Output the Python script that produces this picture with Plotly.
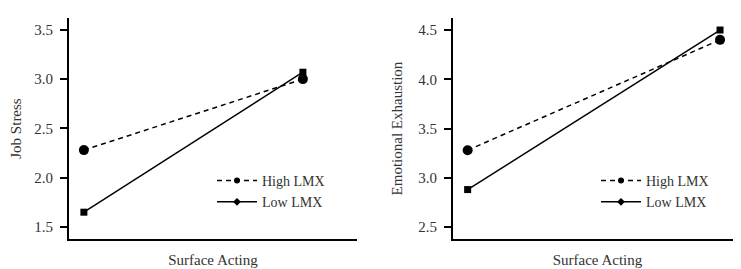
import plotly.graph_objects as go

x_levels = [0, 1]
x_labels = ["Low", "High"]
series = ["High LMX", "Low LMX"]
job_stress_high = [2.28, 3.00]
job_stress_low = [1.65, 3.07]
exhaustion_high = [3.28, 4.40]
exhaustion_low = [2.88, 4.50]
y1_ticks = [1.5, 2.0, 2.5, 3.0, 3.5]
y2_ticks = [2.5, 3.0, 3.5, 4.0, 4.5]

FONT = "'Liberation Serif', 'Times New Roman', serif"
TXT = "#333"
W, H = 741, 269

fig = go.Figure()

def add_panel(hi, lo, xa, ya, leg):
    fig.add_trace(go.Scatter(x=x_levels, y=hi, xaxis=xa, yaxis=ya, mode="lines+markers",
                             line=dict(color="black", width=1.5, dash="5px,4px"),
                             marker=dict(symbol="circle", size=10, color="black"),
                             showlegend=False))
    fig.add_trace(go.Scatter(x=x_levels, y=lo, xaxis=xa, yaxis=ya, mode="lines+markers",
                             line=dict(color="black", width=1.5),
                             marker=dict(symbol="square", size=7, color="black"),
                             showlegend=False))
    fig.add_trace(go.Scatter(x=[None], y=[None], xaxis=xa, yaxis=ya, mode="lines+markers",
                             name=series[0], legend=leg,
                             line=dict(color="black", width=1.5, dash="5px,4px"),
                             marker=dict(symbol="circle", size=6, color="black")))
    fig.add_trace(go.Scatter(x=[None], y=[None], xaxis=xa, yaxis=ya, mode="lines+markers",
                             name=series[1], legend=leg,
                             line=dict(color="black", width=1.5),
                             marker=dict(symbol="diamond", size=6, color="black")))

add_panel(job_stress_high, job_stress_low, "x", "y", "legend")
add_panel(exhaustion_high, exhaustion_low, "x2", "y2", "legend2")

ydom = [(H - 231) / H, (H - 10) / H]
xcommon = dict(showticklabels=False, ticks="", showgrid=False, zeroline=False,
               showline=True, linecolor="black", linewidth=2, automargin=False,
               title=dict(text="Surface Acting", font=dict(family=FONT, size=15, color=TXT), standoff=14))
ycommon = dict(showgrid=False, zeroline=False, showline=True, linecolor="black", linewidth=2,
               ticks="outside", ticklen=7, tickwidth=1.5, tickcolor="black", automargin=False,
               ticklabelstandoff=4,
               tickfont=dict(family=FONT, size=15, color=TXT))

legcommon = dict(xanchor="left", yanchor="top", font=dict(family=FONT, size=14, color=TXT),
                 bgcolor="rgba(0,0,0,0)", tracegroupgap=0, itemwidth=40)

fig.update_layout(
    width=W, height=H, margin=dict(l=0, r=0, t=0, b=0),
    plot_bgcolor="white", paper_bgcolor="white",
    xaxis=dict(domain=[61 / W, 349 / W], range=[-0.068, 1.247], **xcommon),
    yaxis=dict(domain=ydom, range=[1.378, 3.62], tickvals=y1_ticks,
               ticktext=[f"{v:.1f}" for v in y1_ticks],
               title=dict(text="Job Stress", font=dict(family=FONT, size=15, color=TXT), standoff=14),
               **ycommon),
    xaxis2=dict(domain=[445 / W, 734 / W], range=[-0.058, 1.087], anchor="y2", **xcommon),
    yaxis2=dict(domain=ydom, range=[2.378, 4.622], tickvals=y2_ticks, anchor="x2",
                ticktext=[f"{v:.1f}" for v in y2_ticks],
                title=dict(text="Emotional Exhaustion", font=dict(family=FONT, size=15, color=TXT), standoff=12),
                **ycommon),
    legend=dict(x=204 / W, y=(H - 157) / H, **legcommon),
    legend2=dict(x=588 / W, y=(H - 157) / H, **legcommon),
)

fig.write_html("out.html")
